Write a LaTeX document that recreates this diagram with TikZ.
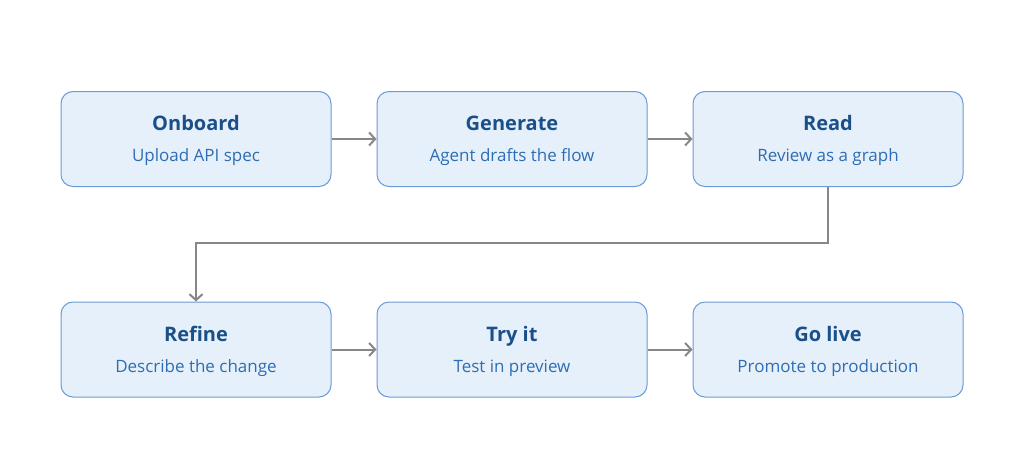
\documentclass[tikz,border=0pt]{standalone}
\usepackage{fontspec}
\setmainfont{Open Sans}
\usetikzlibrary{positioning,arrows.meta}
\definecolor{boxfill}{HTML}{E6F0FA}
\definecolor{boxline}{HTML}{6B9BD6}
\definecolor{titleblue}{HTML}{1B4F8A}
\definecolor{subblue}{HTML}{2E6DB4}
\definecolor{flowgray}{HTML}{878787}
\tikzset{
  stage/.style={draw=boxline, line width=1pt, fill=boxfill, rounded corners=12pt,
    minimum width=270pt, minimum height=95pt, align=center, inner sep=0pt,
    font=\fontsize{17}{31}\selectfont},
  flow/.style={draw=flowgray, line width=2pt, -{Straight Barb[length=6pt,width=13pt]}}
}
\newcommand{\stagetext}[2]{{\fontsize{20}{31}\selectfont\bfseries\color{titleblue}\vphantom{Ödp}#1}\\{\color{subblue}\vphantom{Ågp}#2}}
\begin{document}
\begin{tikzpicture}[x=1pt,y=1pt]
  \useasboundingbox (0,0) rectangle (1024,-458);
  % top row
  \node[stage] (onboard) at (196,-139) {\stagetext{Onboard}{Upload API spec}};
  \node[stage] (generate) at (512,-139) {\stagetext{Generate}{Agent drafts the flow}};
  \node[stage] (read) at (828,-139) {\stagetext{Read}{Review as a graph}};
  % bottom row
  \node[stage] (refine) at (196,-349.5) {\stagetext{Refine}{Describe the change}};
  \node[stage] (tryit) at (512,-349.5) {\stagetext{Try it}{Test in preview}};
  \node[stage] (golive) at (828,-349.5) {\stagetext{Go live}{Promote to production}};
  % connectors
  \draw[flow] (onboard) -- (generate);
  \draw[flow] (generate) -- (read);
  \draw[flow] (read.south) -- ++(0,-56) -| (refine.north);
  \draw[flow] (refine) -- (tryit);
  \draw[flow] (tryit) -- (golive);
\end{tikzpicture}
\end{document}
